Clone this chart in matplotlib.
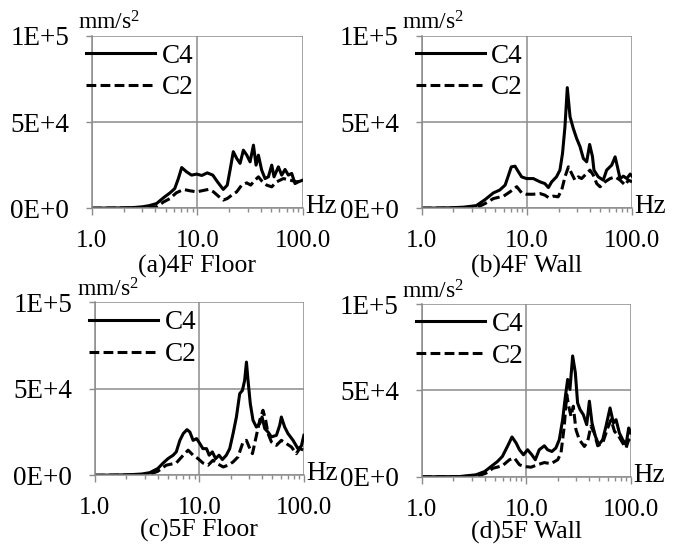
import numpy as np
import matplotlib
matplotlib.use("Agg")
from matplotlib import pyplot as plt
from matplotlib.ticker import FixedLocator, LogLocator, NullFormatter

plt.rcParams['font.family'] = ['Liberation Serif', 'DejaVu Serif']
plt.rcParams['mathtext.fontset'] = 'custom'
plt.rcParams['mathtext.rm'] = 'Liberation Serif'
plt.rcParams['mathtext.it'] = 'Liberation Serif:italic'

#valores (frecuencia en Hz, aceleracion en mm/s2)

titles = ["(a)4F Floor", "(b)4F Wall", "(c)5F Floor", "(d)5F Wall"]
series_names = ["C4", "C2"]
x_ticks = [1, 10, 100]
x_tick_labels = ["1.0", "10.0", "100.0"]
y_ticks = [0, 50000, 100000]
y_tick_labels = ["0E+0", "5E+4", "1E+5"]

a_c4_f = [1.0, 1.5, 2.0, 2.5, 3.0, 3.5, 4.1, 4.8, 5.5, 6.1, 6.6, 7.1, 7.9, 8.8, 9.85, 11.0, 12.4, 14.0, 15.5, 17.6,
          19.2, 20.4, 21.9, 23.6, 25.4, 27.3, 29.4, 31.6, 34.0, 36.0, 37.9, 40.7, 43.8, 47.1, 50.7, 53.3, 58.6,
          63.0, 67.8, 72.9, 78.4, 84.3, 90.6, 100]
a_c4_v = [0, 100, 200, 400, 800, 1500, 2700, 6200, 8900, 11400, 17200, 23600, 21100, 19200, 19800, 19000, 20500,
          19200, 15300, 10900, 13400, 22100, 32800, 28900, 26000, 33700, 30800, 26900, 36600, 25000, 30800, 22100,
          17200, 18200, 25000, 18200, 24000, 19200, 22500, 19200, 20200, 14300, 15300, 16300]
a_c2_f = [1.0, 2.0, 3.0, 3.5, 4.1, 4.8, 5.5, 6.3, 7.4, 8.5, 9.85, 11.0, 12.7, 14.2, 15.8, 17.6, 19.2, 21.2, 23.6,
          26.3, 29.4, 32.0, 35.2, 37.9, 40.7, 45.4, 50.7, 56.4, 65.4, 75.6, 87.4, 100]
a_c2_v = [0, 100, 300, 500, 800, 3700, 5600, 8900, 10900, 10100, 9500, 10100, 10900, 9500, 7000, 4700, 5600, 7600,
          9500, 13400, 14700, 13400, 16300, 18200, 15900, 13400, 12400, 15300, 17200, 16300, 15300, 15900]

b_c4_f = [1.0, 1.5, 2.0, 2.5, 3.3, 4.0, 4.8, 5.5, 6.2, 6.6, 7.1, 7.7, 8.3, 8.9, 9.9, 11.5, 13.3, 14.8, 16.0, 17.2,
          19.1, 20.6, 21.8, 23.0, 24.2, 25.7, 27.6, 29.7, 32.0, 34.4, 37.0, 39.5, 42.0, 43.4, 47.7, 53.2, 57.3,
          64.0, 69.0, 72.6, 76.9, 82.8, 89.1, 95.9, 100]
b_c4_v = [0, 100, 300, 600, 1500, 5000, 8900, 10500, 13400, 18200, 24000, 24400, 21100, 18200, 17200, 17200, 15300,
          14300, 12000, 15300, 18200, 22100, 31800, 47300, 70000, 53100, 46300, 40500, 35700, 28900, 26900, 37000,
          30000, 22100, 18200, 16300, 22100, 25000, 29800, 24000, 17200, 18600, 17200, 19800, 18600]
b_c2_f = [1.0, 2.0, 3.0, 3.5, 4.0, 4.8, 6.0, 6.9, 8.0, 8.9, 9.9, 11.5, 13.3, 14.8, 16.0, 17.8, 19.8, 21.4, 23.0,
          24.8, 26.6, 28.6, 30.8, 33.1, 37.0, 39.8, 42.8, 46.1, 49.6, 55.3, 61.8, 69.0, 76.9, 85.9, 92.3, 100]
b_c2_v = [0, 100, 400, 1000, 2700, 5600, 7000, 9500, 12500, 8900, 8100, 8100, 8500, 7600, 6200, 7000, 6600, 10500,
          18200, 24000, 20200, 16300, 18200, 17200, 20200, 22100, 19200, 14300, 12400, 15300, 17200, 18200, 16300,
          13400, 16300, 15300]

c_c4_f = [1.0, 1.5, 2.15, 2.8, 3.35, 4.0, 4.5, 5.0, 5.6, 6.0, 6.5, 7.0, 7.6, 8.1, 8.7, 9.4, 10.1, 10.8, 11.7, 12.4,
          13.3, 14.3, 15.4, 16.6, 18.1, 19.5, 21.0, 22.6, 24.3, 25.8, 27.1, 28.2, 29.2, 30.7, 32.6, 35.1, 37.8,
          39.8, 42.2, 45.4, 48.9, 54.6, 58.7, 60.9, 65.5, 70.5, 78.8, 87.7, 94.5, 100]
c_c4_v = [0, 100, 300, 700, 1500, 3900, 7100, 9600, 11600, 13500, 20200, 24100, 26400, 25000, 20200, 21200, 18300,
          15400, 15400, 11600, 13500, 9600, 11600, 9100, 11600, 15400, 24100, 33700, 47200, 49100, 54900, 65500,
          54900, 41400, 31800, 27900, 29900, 33700, 27000, 25000, 22200, 23100, 28900, 33700, 27900, 24100, 20200,
          15400, 16800, 23100]
c_c2_f = [1.0, 2.0, 3.0, 3.5, 4.0, 4.8, 6.0, 7.0, 7.8, 8.7, 9.7, 10.8, 12.1, 13.5, 14.8, 16.9, 18.8, 21.0, 23.4,
          26.2, 28.2, 29.9, 32.2, 34.6, 37.8, 40.6, 43.1, 45.4, 48.9, 54.6, 60.9, 68.0, 75.9, 84.7, 91.0, 100]
c_c2_v = [0, 100, 400, 1000, 2300, 5800, 7100, 11600, 14500, 11600, 9600, 7100, 5800, 8700, 6700, 4800, 5800, 7700,
          10600, 19300, 20200, 16400, 12500, 21200, 31800, 37600, 31800, 24100, 19300, 17300, 20200, 18300, 16400,
          12500, 15400, 14500]

d_c4_f = [1.0, 1.5, 2.3, 3.3, 4.0, 4.6, 5.3, 5.9, 6.6, 7.3, 8.0, 8.6, 9.4, 10.3, 11.3, 12.2, 13.3, 14.9, 16.0, 17.6,
          19.2, 20.7, 22.3, 23.7, 24.9, 26.2, 27.8, 29.5, 31.0, 32.7, 35.2, 37.9, 40.2, 42.6, 45.9, 49.4, 53.9,
          58.0, 63.4, 68.3, 72.4, 77.9, 83.8, 90.2, 95.7, 100]
d_c4_v = [0, 100, 200, 1200, 3100, 6000, 8900, 11800, 17600, 23100, 19600, 15700, 12800, 15700, 12800, 9900, 15700,
          18000, 15700, 14700, 16700, 21500, 33100, 46700, 56400, 50600, 70000, 60300, 42800, 39000, 36000, 30200,
          43800, 31200, 23500, 18600, 21500, 29300, 39900, 31200, 33100, 25400, 21500, 18600, 28300, 25400]
d_c2_f = [1.0, 2.0, 3.0, 3.5, 4.1, 4.8, 5.9, 6.9, 7.7, 8.6, 9.6, 11.1, 12.8, 14.9, 17.2, 20.0, 21.5, 23.1, 24.4,
          25.5, 26.8, 28.2, 29.9, 32.2, 36.0, 38.7, 41.6, 44.8, 48.3, 53.9, 60.2, 64.9, 69.9, 76.8, 83.8, 90.2,
          95.7, 100]
d_c2_v = [0, 100, 300, 700, 2100, 5000, 6400, 9900, 10900, 7000, 6000, 5600, 7000, 8300, 7600, 9900, 13800, 29300,
          47700, 40900, 35100, 40900, 27300, 21500, 17600, 20500, 29300, 25400, 18000, 19600, 28300, 33100, 26400,
          23500, 19600, 16700, 21500, 19600]

panels = [
    (a_c4_f, a_c4_v, a_c2_f, a_c2_v),
    (b_c4_f, b_c4_v, b_c2_f, b_c2_v),
    (c_c4_f, c_c4_v, c_c2_f, c_c2_v),
    (d_c4_f, d_c4_v, d_c2_f, d_c2_v),
]

#posiciones de los ejes en fraccion de figura
axes_pos = [
    [0.136, 0.618, 0.312, 0.316],
    [0.624, 0.618, 0.311, 0.316],
    [0.1405, 0.128, 0.309, 0.317],
    [0.624, 0.125, 0.309, 0.317],
]
unit_x = [-0.066, -0.095, -0.086, -0.096]
title_y = [-0.34, -0.34, -0.32, -0.32]

GRID = "#8c8c8c"

fig = plt.figure(figsize=(6.76, 5.45), dpi=100)

for i in range(4):
    ax = fig.add_axes(axes_pos[i])
    f4, v4, f2, v2 = panels[i]

    l2, = ax.plot(f2, v2, color="black", lw=2.2, dashes=(3.2, 1.4), solid_capstyle="butt")
    l4, = ax.plot(f4, v4, color="black", lw=2.2)

    ax.set_xscale("log")
    ax.set_xlim(1, 100)
    ax.set_ylim(0, 100000)

    ax.xaxis.set_major_locator(FixedLocator(x_ticks))
    ax.set_xticklabels(x_tick_labels)
    ax.xaxis.set_minor_locator(LogLocator(base=10, subs=np.arange(2, 10)))
    ax.xaxis.set_minor_formatter(NullFormatter())
    ax.set_yticks(y_ticks)
    ax.set_yticklabels(y_tick_labels)

    ax.tick_params(axis="x", which="major", direction="out", length=5, width=1, color=GRID,
                   labelsize=18, pad=11)
    ax.tick_params(axis="x", which="minor", direction="out", length=3, width=1, color=GRID)
    ax.tick_params(axis="y", which="major", direction="out", length=4.5, width=1, color=GRID,
                   labelsize=19.5, pad=12)

    ax.grid(True, which="major", color=GRID, lw=1.1)
    ax.set_axisbelow(True)
    for s in ["top", "right"]:
        ax.spines[s].set_visible(False)
    for s in ["left", "bottom"]:
        ax.spines[s].set_color(GRID)
        ax.spines[s].set_linewidth(1.1)

    ax.legend([l4, l2], series_names, loc="upper left", bbox_to_anchor=(-0.03, 0.955), frameon=False,
              fontsize=19.5, handlelength=2.55, handletextpad=0.25, labelspacing=0.25,
              borderpad=0, borderaxespad=0)

    ax.text(unit_x[i], 1.035, "mm/s$^2$", transform=ax.transAxes, fontsize=17, ha="left", va="baseline")
    ax.text(1.01, 0.01, "Hz", transform=ax.transAxes, fontsize=19.5, ha="left", va="center")
    ax.text(0.5, title_y[i], titles[i], transform=ax.transAxes, fontsize=18.5, ha="center", va="center")

fig.savefig("out.png", dpi=100)
